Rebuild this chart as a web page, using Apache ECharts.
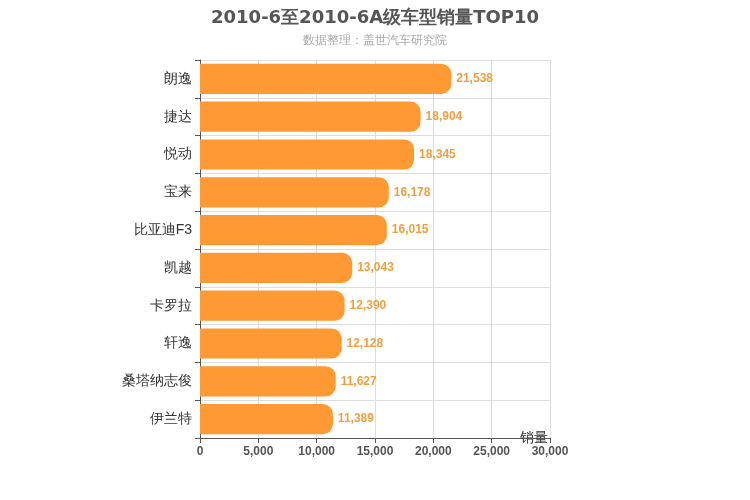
<!DOCTYPE html>
<html><head><meta charset="utf-8">
<script src="https://cdn.jsdelivr.net/npm/echarts@6/dist/echarts.min.js"></script>
<style>body{margin:0}#c{width:750px;height:500px}</style></head>
<body><div id="c"></div>
<script>
const categories = ['朗逸','捷达','悦动','宝来','比亚迪F3','凯越','卡罗拉','轩逸','桑塔纳志俊','伊兰特'];
const sales = [21538,18904,18345,16178,16015,13043,12390,12128,11627,11389];
const xTicks = [0,5000,10000,15000,20000,25000,30000];
const chart = echarts.init(document.getElementById('c'));
chart.setOption({
  animation:false,
  title:{text:'2010-6至2010-6A级车型销量TOP10',subtext:'数据整理：盖世汽车研究院',left:'center',top:4,
    textStyle:{fontSize:18,fontWeight:'bold',color:'#555',fontFamily:'DejaVu Sans'},
    subtextStyle:{fontSize:12,color:'#aaa'},itemGap:8},
  grid:{left:200,right:200,top:60,bottom:62},
  xAxis:{type:'value',min:xTicks[0],max:xTicks[xTicks.length-1],interval:5000,
    name:'销量',nameLocation:'end',nameGap:-30,nameTextStyle:{fontSize:14,color:'#333',padding:[38,0,0,0]},
    axisLine:{show:true,lineStyle:{color:'#555'}},axisTick:{show:true,lineStyle:{color:'#555'}},
    axisLabel:{color:'#555',fontSize:12,fontWeight:'bold',formatter:v=>v.toLocaleString('en-US')},
    splitLine:{lineStyle:{color:'#ddd'}}},
  yAxis:{type:'category',data:categories,inverse:true,
    axisLine:{lineStyle:{color:'#555'}},axisTick:{show:true,lineStyle:{color:'#555'}},
    axisLabel:{color:'#333',fontSize:14},
    splitLine:{show:true,lineStyle:{color:'#ddd'}}},
  series:[{type:'bar',data:sales,barWidth:'80%',
    itemStyle:{color:'#ff9933',borderRadius:[0,10,10,0]},
    label:{show:true,position:'right',color:'#f0a040',fontWeight:'bold',fontSize:12,
      formatter:p=>p.value.toLocaleString('en-US')}}]
});
</script></body></html>
